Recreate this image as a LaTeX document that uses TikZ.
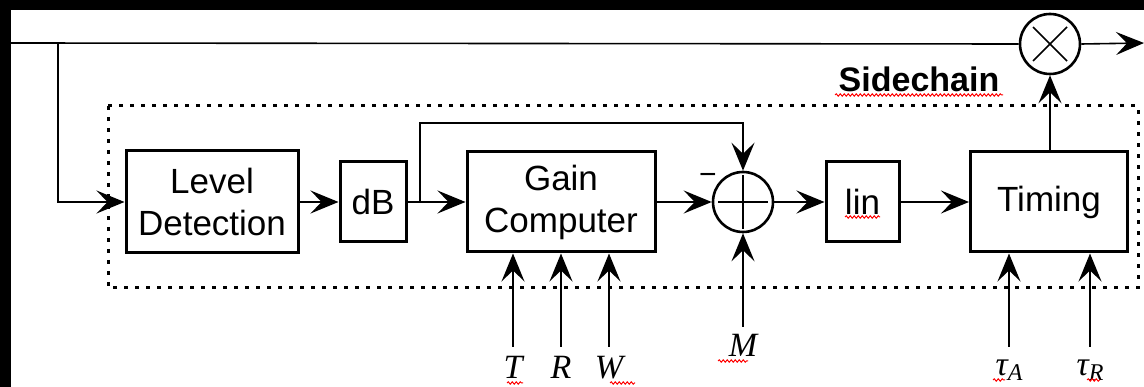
\documentclass[tikz,border=0pt]{standalone}
\usepackage{fontspec}
\setmainfont{Liberation Sans}
\newfontfamily\tms{Liberation Serif}
\usetikzlibrary{arrows.meta,decorations.pathmorphing}
\begin{document}
\begin{tikzpicture}[x=1pt,y=-1pt,
 thinln/.style={line width=1.6pt},
 box/.style={draw,line width=3pt,rectangle,inner sep=0pt,align=center,font=\fontsize{35}{42}\selectfont},
 op/.style={draw,circle,line width=2.6pt,minimum size=60pt,inner sep=0pt},
 arr/.style={line width=1.6pt,-{Stealth[length=28pt,width=23pt,inset=11pt]}},
 lab/.style={font=\tms\itshape\fontsize{34}{34}\selectfont,anchor=base,inner sep=0pt},
 sq/.style={red,line width=1pt,decorate,decoration={snake,segment length=4pt,amplitude=1.2pt}}
]
\useasboundingbox (0,0) rectangle (1144,387);
\fill[white] (0,0) rectangle (1144,387);
\fill[black] (0,0) rectangle (1144,10.5);
\fill[black] (0,0) rectangle (11,387);

% sidechain frame
\draw[line width=3pt,dash pattern=on 4pt off 7pt] (108,106) rectangle (1138,288);
\node[font=\bfseries\fontsize{34}{34}\selectfont,anchor=base,inner sep=0pt] (sc) at (919,92) {Sidechain};

% blocks
\node[box,minimum width=172pt,minimum height=102pt] (ld) at (212,202) {Level\\Detection};
\node[box,minimum width=66pt,minimum height=80pt] (db) at (373,202) {dB};
\node[box,minimum width=188pt,minimum height=100pt] (gc) at (561,202) {Gain\\Computer};
\node[op] (sum) at (743,202) {};
\node[box,minimum width=73pt,minimum height=80pt] (lin) at (862.5,202) {lin};
\node[box,minimum width=157pt,minimum height=100pt] (tim) at (1049,202) {Timing};
\node[op] (mul) at (1050,44) {};

% operator symbols
\draw[thinln] ([xshift=-25pt]sum.center) -- ([xshift=25pt]sum.center);
\draw[thinln] ([yshift=-27pt]sum.center) -- ([yshift=27pt]sum.center);
\draw[thinln] ([shift={(-17pt,-17pt)}]mul.center) -- ([shift={(17pt,17pt)}]mul.center);
\draw[thinln] ([shift={(-17pt,17pt)}]mul.center) -- ([shift={(17pt,-17pt)}]mul.center);
\node[font=\fontsize{30}{30}\selectfont,anchor=base,inner sep=0pt] (minus) at (708,185) {−};

% main path
\coordinate (in) at (11,43);
\coordinate (out) at (1144,43);
\coordinate (br) at (58,43);
\draw[thinln] (in) -- (mul.west);
\draw[arr] (mul.east) -- (out);
\draw[arr] (br) |- (ld.west);
\draw[arr] (ld) -- (db);
\draw[arr] (db) -- (gc);
\coordinate (j) at (420,202);
\coordinate (jt) at (420,123);
\draw[arr] (j) -- (jt) -| (sum.north);
\draw[arr] (gc) -- (sum);
\draw[arr] (sum) -- (lin);
\draw[arr] (lin) -- (tim);
\draw[arr] (tim.north -| mul) -- (mul.south);

% parameter inputs
\coordinate (Ts) at (513,347);
\coordinate (Rs) at (561,347);
\coordinate (Ws) at (609,347);
\draw[arr] (Ts) -- (gc.south -| Ts);
\draw[arr] (Rs) -- (gc.south -| Rs);
\draw[arr] (Ws) -- (gc.south -| Ws);
\node[lab] (Tl) at (513,379) {T};
\node[lab] (Rl) at (561,379) {R};
\node[lab] (Wl) at (609,379) {W};
\coordinate (Ms) at (743,327);
\draw[arr] (Ms) -- (sum.south);
\node[lab] (Ml) at (743,357) {M};
\coordinate (tAs) at (1009,347);
\coordinate (tRs) at (1090,347);
\draw[arr] (tAs) -- (tim.south -| tAs);
\draw[arr] (tRs) -- (tim.south -| tRs);
\node[lab] (tAl) at (1009,376) {τ\raisebox{-5pt}{\fontsize{24}{24}\selectfont A}};
\node[lab] (tRl) at (1090,376) {τ\raisebox{-5pt}{\fontsize{24}{24}\selectfont R}};

% spell-check marks
\draw[sq] (835,95) -- (1003,95);
\draw[sq] (845,217) -- (880,217);
\draw[sq] (718,361) -- (748,361);
\draw[sq] (507,383) -- (523,383);
\draw[sq] (610,383) -- (635,383);
\draw[sq] (993,380) -- (1005,380);
\draw[sq] (1087,380) -- (1100,380);
\end{tikzpicture}
\end{document}
